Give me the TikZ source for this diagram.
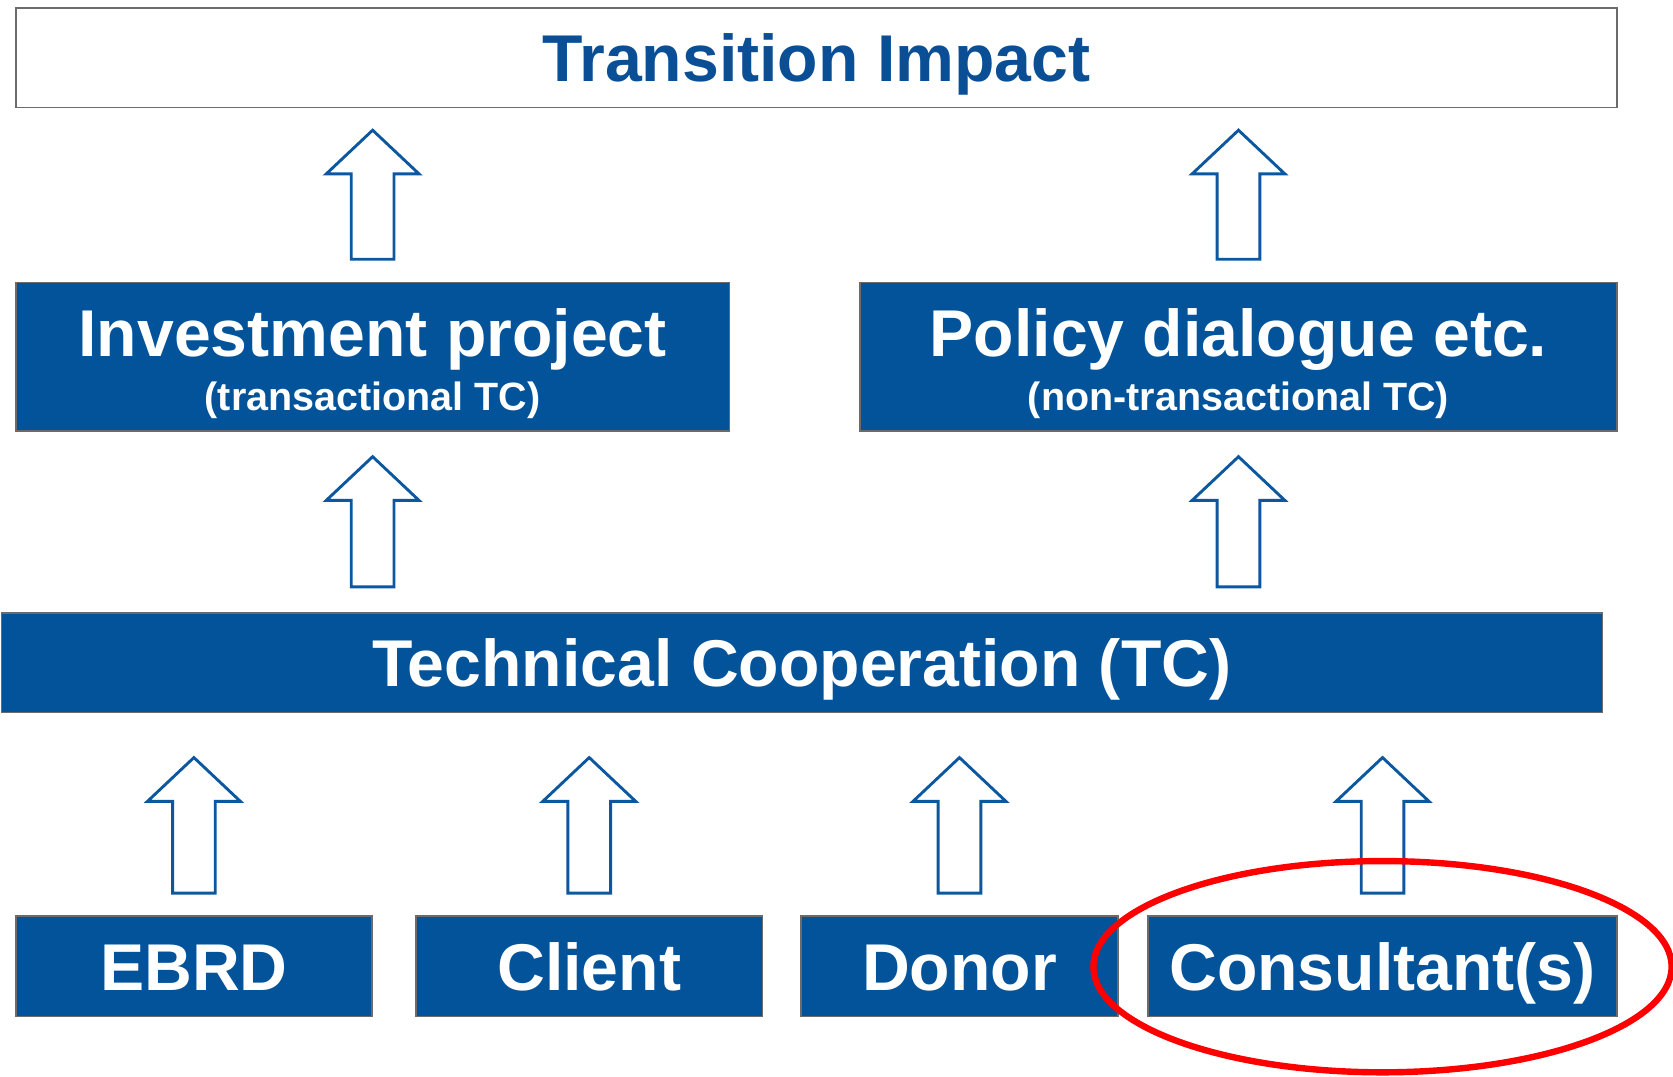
\documentclass[tikz,border=0pt]{standalone}
\usepackage{fontspec}
\setmainfont{Liberation Sans}
\definecolor{boxblue}{HTML}{02539A}
\definecolor{arrblue}{HTML}{0B57A0}
\definecolor{ttlblue}{HTML}{0A4F96}
\definecolor{edgegray}{HTML}{6B6B6B}
\definecolor{markred}{HTML}{FF0000}
\newcommand\blockup[3]{\draw[blockarr] (#1.north |- 0,#2) -- ++(43.5,41) -- ++(-23.5,0) -- ++(0,#3-#2-41) -- ++(-40,0) -- ++(0,-#3+#2+41) -- ++(-23.5,0) -- cycle;}
\begin{document}
\begin{tikzpicture}[x=0.5pt,y=-0.5pt,
  bigfont/.style={font=\fontsize{31}{36}\selectfont\bfseries},
  bluebox/.style={draw=edgegray,line width=0.75pt,fill=boxblue,text=white,inner sep=0pt,anchor=north west,bigfont,text height=22.2pt,text depth=0pt},
  whitebox/.style={draw=edgegray,line width=0.75pt,fill=white,text=ttlblue,inner sep=0pt,anchor=north west,bigfont,text height=22.2pt,text depth=0pt},
  maintxt/.style={text=white,inner sep=0pt,anchor=base,bigfont},
  subtxt/.style={text=white,inner sep=0pt,anchor=base,font=\fontsize{18.5}{22}\selectfont\bfseries},
  blockarr/.style={draw=arrblue,fill=white,line width=1.35pt,line join=miter}]
\useasboundingbox (0,0) rectangle (1568,1009);
% boxes
\node[whitebox,minimum width=750.5pt,minimum height=46.5pt] (ti) at (14,7) {Transition Impact};
\node[bluebox,minimum width=334.5pt,minimum height=69.5pt] (inv) at (14,264) {};
\node[bluebox,minimum width=355pt,minimum height=69.5pt] (pol) at (805,264) {};
\node[maintxt] (invt) at (inv.north |- 0,334) {Investment project};
\node[subtxt] (invs) at (inv.north |- 0,385) {(transactional TC)};
\node[maintxt] (polt) at (pol.north |- 0,334) {Policy dialogue etc.};
\node[subtxt] (pols) at (pol.north |- 0,385) {(non-transactional TC)};
\node[bluebox,minimum width=750.25pt,minimum height=46.5pt] (tc) at (0.5,574) {Technical Cooperation (TC)};
\node[bluebox,minimum width=167pt,minimum height=47pt] (ebrd) at (14,858) {EBRD};
\node[bluebox,minimum width=162.5pt,minimum height=47pt] (client) at (389,858) {Client};
\node[bluebox,minimum width=148.5pt,minimum height=47pt] (donor) at (750,858) {Donor};
\node[bluebox,minimum width=220pt,minimum height=47pt] (cons) at (1075,858) {Consultant(s)};
% block arrows
\blockup{inv}{122}{243}
\blockup{pol}{122}{243}
\blockup{inv}{428}{550}
\blockup{pol}{428}{550}
\blockup{ebrd}{710}{837}
\blockup{client}{710}{837}
\blockup{donor}{710}{837}
\blockup{cons}{710}{837}
% red ellipse
\draw[markred,line width=3pt] (cons.center |- 0,906) ellipse [x radius=135.5pt, y radius=49.5pt];
\end{tikzpicture}
\end{document}
